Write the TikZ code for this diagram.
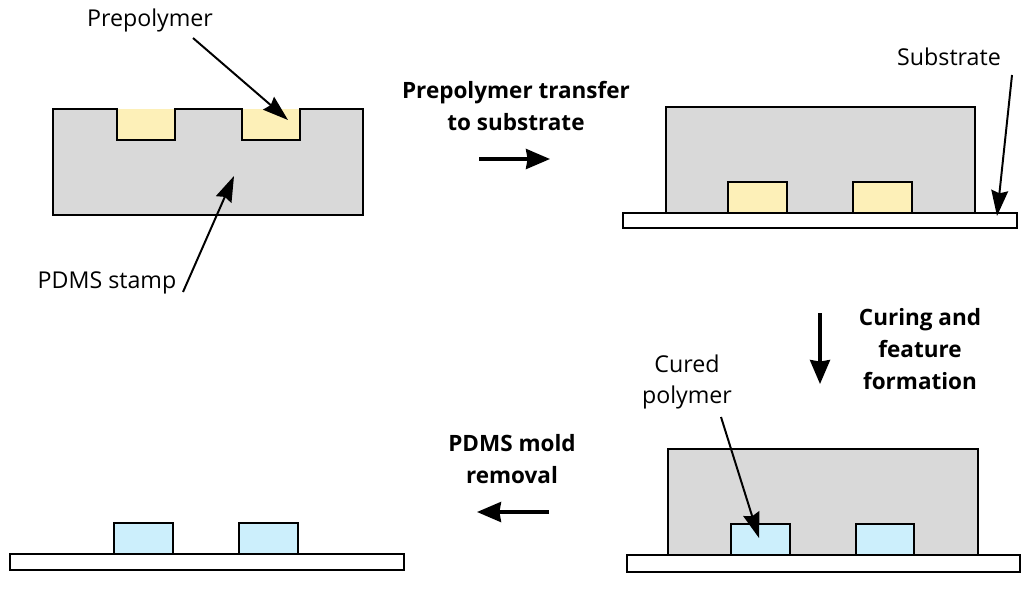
\documentclass[tikz,border=0pt]{standalone}
\usepackage{fontspec}
\setmainfont{Open Sans}
\usetikzlibrary{arrows.meta}
\definecolor{stampGray}{HTML}{D9D9D9}
\definecolor{prepolyFill}{HTML}{FDF0B8}
\definecolor{curedFill}{HTML}{CCEFFC}
\definecolor{stepInk}{HTML}{000000}

\begin{document}
\begin{tikzpicture}[
    x=0.025cm,y=-0.025cm,>=Latex,
    every node/.style={font=\fontsize{16.5}{22}\selectfont,align=center,inner sep=0pt},
    stamp/.style={draw=black,fill=stampGray,line width=1.6pt,line join=miter},
    prepoly/.style={draw=black,fill=prepolyFill,line width=1.6pt},
    cured/.style={draw=black,fill=curedFill,line width=1.6pt},
    substrate/.style={draw=black,fill=white,line width=1.6pt},
    callout/.style={font=\fontsize{16.5}{22}\selectfont},
    stepnote/.style={font=\bfseries\fontsize{16}{23}\selectfont},
    pointer/.style={-{Stealth[length=6.4mm,width=4.2mm,inset=0.7mm]},draw=stepInk,line width=1.4pt},
    process/.style={-{Stealth[length=6mm,width=5mm,inset=0.4mm]},draw=stepInk,line width=2.3pt}
]
\useasboundingbox (0,0) rectangle (1024,592);

% stamp with filled wells
\fill[prepolyFill] (117,109) rectangle (175,140);
\fill[prepolyFill] (242,109) rectangle (300,140);
\draw[stamp] (53,109) -- (117,109) -- (117,140) -- (175,140) -- (175,109) -- (242,109)
    -- (242,140) -- (300,140) -- (300,109) -- (363,109) -- (363,215) -- (53,215) -- cycle;
\node[callout] (prepolyText) at (150,20) {Prepolymer};
\node[callout] (stampText) at (107,283) {PDMS stamp};
\coordinate (prepolyTail) at (193,38);
\coordinate (prepolyTip) at (288,120);
\coordinate (stampTail) at (183,292);
\coordinate (stampTip) at (234,176);
\draw[pointer] (prepolyTail) -- (prepolyTip);
\draw[pointer] (stampTail) -- (stampTip);

% transfer
\node[stepnote] (transferText) at (516,106) {Prepolymer transfer\\to substrate};
\coordinate (transferStart) at (479,159);
\coordinate (transferEnd) at (550,159);
\draw[process] (transferStart) -- (transferEnd);

\draw[stamp] (666,107) rectangle (975,213);
\draw[prepoly] (728,182) rectangle (787,213);
\draw[prepoly] (853,182) rectangle (912,213);
\draw[substrate] (623,213) rectangle (1017,228);
\node[callout] (substrateText) at (949,57) {Substrate};
\coordinate (substrateTail) at (1012,75);
\coordinate (substrateTip) at (997,216);
\draw[pointer] (substrateTail) -- (substrateTip);

% curing
\node[stepnote] (curingText) at (920,349) {Curing and\\feature\\formation};
\coordinate (curingStart) at (820,313);
\coordinate (curingEnd) at (820,384);
\draw[process] (curingStart) -- (curingEnd);

\draw[stamp] (668,449) rectangle (978,555);
\draw[cured] (731,524) rectangle (790,555);
\draw[cured] (856,524) rectangle (914,555);
\draw[substrate] (627,555) rectangle (1020,572);
\node[callout] (curedText) at (687,382) {Cured\\polymer};
\coordinate (curedTail) at (721,417);
\coordinate (curedTip) at (759,538);
\draw[pointer] (curedTail) -- (curedTip);

% removal
\node[stepnote] (removalText) at (512,459) {PDMS mold\\removal};
\coordinate (removalStart) at (549,512);
\coordinate (removalEnd) at (477,512);
\draw[process] (removalStart) -- (removalEnd);

\draw[cured] (114,523) rectangle (173,554);
\draw[cured] (239,523) rectangle (298,554);
\draw[substrate] (10,554) rectangle (404,570);
\end{tikzpicture}
\end{document}
